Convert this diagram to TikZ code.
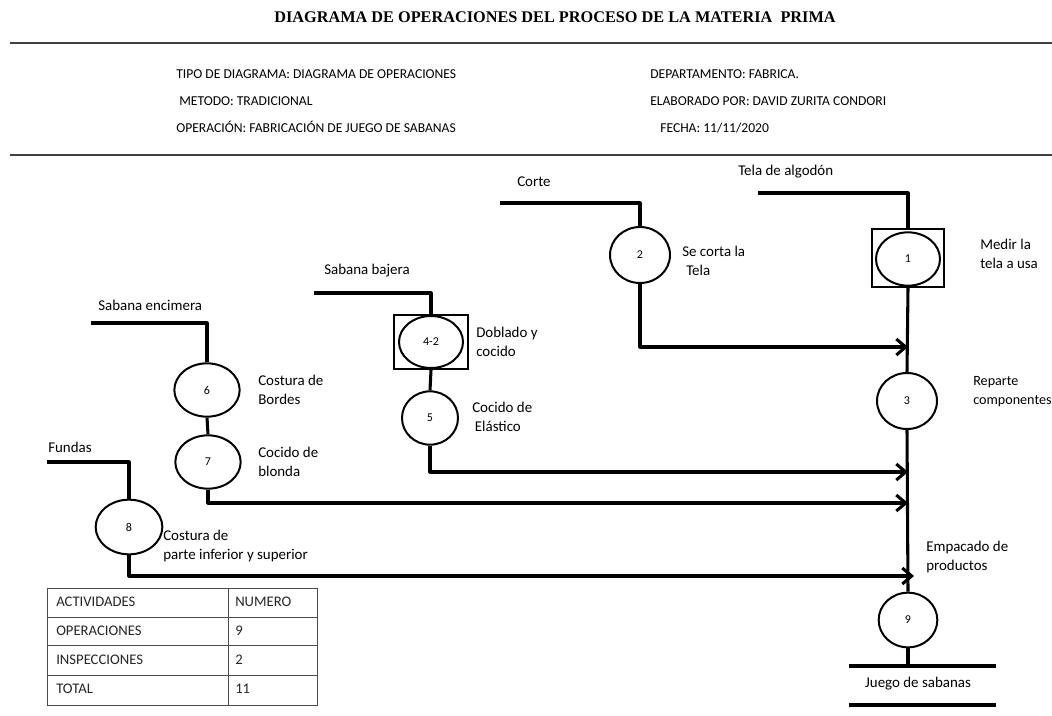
\documentclass[tikz,border=0pt]{standalone}
\usepackage{fontspec}
\setmainfont{Carlito}
\newfontfamily\titlefont{Liberation Serif}
\usetikzlibrary{shapes.geometric,arrows.meta}
\begin{document}
\begin{tikzpicture}[x=0.75pt,y=-0.75pt,
  conn/.style={line width=2.3pt,line join=round},
  arr/.style={conn,-{Straight Barb[length=7pt,width=12pt,line width=2.3pt]}},
  opn/.style={ellipse,draw,line width=1.5pt,inner sep=0pt,font=\fontsize{9}{10}\selectfont},
  insp/.style={rectangle,draw,line width=1.5pt,inner sep=0pt},
  lbl/.style={anchor=west,align=left,inner sep=0pt,font=\fontsize{11.2}{14.2}\selectfont},
  hdr/.style={anchor=base west,inner sep=0pt,font=\fontsize{10.2}{11}\selectfont},
  rule/.style={line width=1.4pt,black!75},
  tab/.style={line width=0.6pt,black!70},
  tabt/.style={anchor=west,inner sep=0pt,font=\fontsize{11}{12}\selectfont,black!85}]
\useasboundingbox (0,0) rectangle (1052,715);
% title and header
\node[inner sep=0pt,font=\titlefont\bfseries\fontsize{12.2}{14}\selectfont] (title) at (555,17) {DIAGRAMA DE OPERACIONES DEL PROCESO DE LA MATERIA\ \ PRIMA};
\coordinate (r1a) at (10,43); \coordinate (r1b) at (1052,43);
\coordinate (r2a) at (10,155); \coordinate (r2b) at (1052,155);
\draw[rule] (r1a) -- (r1b);
\draw[rule] (r2a) -- (r2b);
\node[hdr] (h1) at (176,78) {TIPO DE DIAGRAMA: DIAGRAMA DE OPERACIONES};
\node[hdr] (h2) at (179,105) {METODO: TRADICIONAL};
\node[hdr] (h3) at (176,132) {OPERACIÓN: FABRICACIÓN DE JUEGO DE SABANAS};
\node[hdr] (h4) at (650,78) {DEPARTAMENTO: FABRICA.};
\node[hdr] (h5) at (650,105) {ELABORADO POR: DAVID ZURITA CONDORI};
\node[hdr] (h6) at (660,132) {FECHA: 11/11/2020};
% main column
\node[insp,minimum width=54pt,minimum height=43pt] (b1) at (908,258) {};
\node[opn,minimum width=48pt,minimum height=40pt] (c1) at (908,259) {1};
\node[opn,minimum width=45pt,minimum height=42pt] (c3) at (907,401) {3};
\node[opn,minimum width=44pt,minimum height=41pt] (c9) at (908,620) {9};
% column 2
\node[opn,minimum width=45pt,minimum height=42pt] (c2) at (640,255) {2};
% column bajera
\node[insp,minimum width=55pt,minimum height=40.5pt] (b42) at (431,342) {};
\node[opn,minimum width=48pt,minimum height=39pt] (c42) at (431,342) {4-2};
\node[opn,minimum width=42pt,minimum height=40pt] (c5) at (430,418) {5};
% column encimera
\node[opn,minimum width=49pt,minimum height=40pt] (c6) at (207,390) {6};
\node[opn,minimum width=49pt,minimum height=40pt] (c7) at (208,462) {7};
% fundas
\node[opn,minimum width=50pt,minimum height=41pt] (c8) at (129,527) {8};
% raw material labels
\node[lbl] (lt) at (738,172) {Tela de algodón};
\node[lbl] (lc) at (517,182) {Corte};
\node[lbl] (lb) at (324,271) {Sabana bajera};
\node[lbl] (le) at (98,305) {Sabana encimera};
\node[lbl] (lf) at (48,447) {Fundas};
% operation labels
\node[lbl] (t1) at (980,254) {Medir la\\tela a usa};
\node[lbl] (t2) at (682,261) {Se corta la\\\hspace{3pt}Tela};
\node[lbl,font=\fontsize{10.6}{14.2}\selectfont] (t3) at (973,392) {Reparte\\componentes};
\node[lbl] (t42) at (476,342) {Doblado y\\cocido};
\node[lbl] (t5) at (472,417) {Cocido de\\\hspace{2pt}Elástico};
\node[lbl] (t6) at (258,390) {Costura de\\Bordes};
\node[lbl] (t7) at (258,462) {Cocido de\\blonda};
\node[lbl] (t8) at (163,546) {Costura de\\parte inferior y superior};
\node[lbl] (t9) at (926,557) {Empacado de\\productos};
% coordinates
\coordinate (ts) at (758,193);
\coordinate (cs) at (500,203);
\coordinate (bs) at (314,293);
\coordinate (es) at (91,323);
\coordinate (fs) at (47,462);
\coordinate (m1) at (908,347);
\coordinate (m2) at (908,472);
\coordinate (m3) at (908,503);
\coordinate (m4) at (914,576);
\coordinate (bar1a) at (849,666); \coordinate (bar1b) at (996,666);
\coordinate (bar2a) at (849,705); \coordinate (bar2b) at (996,705);
\coordinate (bar1m) at (908,666);
% connectors
\draw[conn] (ts) -| (b1.north);
\draw[conn] (b1.south) -- (c3.north);
\draw[conn] (c3.south) -- (c9.north);
\draw[conn] (c9.south) -- (bar1m);
\draw[conn] (bar1a) -- (bar1b);
\draw[conn] (bar2a) -- (bar2b);
\node[lbl,anchor=center] (lj) at (918,684) {Juego de sabanas};
\draw[conn] (cs) -| (c2.north);
\draw[arr] (c2.south) |- (m1);
\draw[conn] (bs) -| (b42.north);
\draw[conn] (b42.south) -- (c5.north);
\draw[arr] (c5.south) |- (m2);
\draw[conn] (es) -| (c6.north);
\draw[conn] (c6.south) -- (c7.north);
\draw[arr] (c7.south) |- (m3);
\draw[conn] (fs) -| (c8.north);
\draw[arr] (c8.south) |- (m4);
% table
\draw[tab] (47,588) rectangle (317,705);
\draw[tab] (47,617) -- (317,617);
\draw[tab] (47,645) -- (317,645);
\draw[tab] (47,675) -- (317,675);
\draw[tab] (228,588) -- (228,705);
\node[tabt] (a1) at (56,602) {ACTIVIDADES};
\node[tabt] (a2) at (56,631) {OPERACIONES};
\node[tabt] (a3) at (56,660) {INSPECCIONES};
\node[tabt] (a4) at (56,689) {TOTAL};
\node[tabt] (n1) at (235,602) {NUMERO};
\node[tabt] (n2) at (235,631) {9};
\node[tabt] (n3) at (235,660) {2};
\node[tabt] (n4) at (235,689) {11};
\end{tikzpicture}
\end{document}
